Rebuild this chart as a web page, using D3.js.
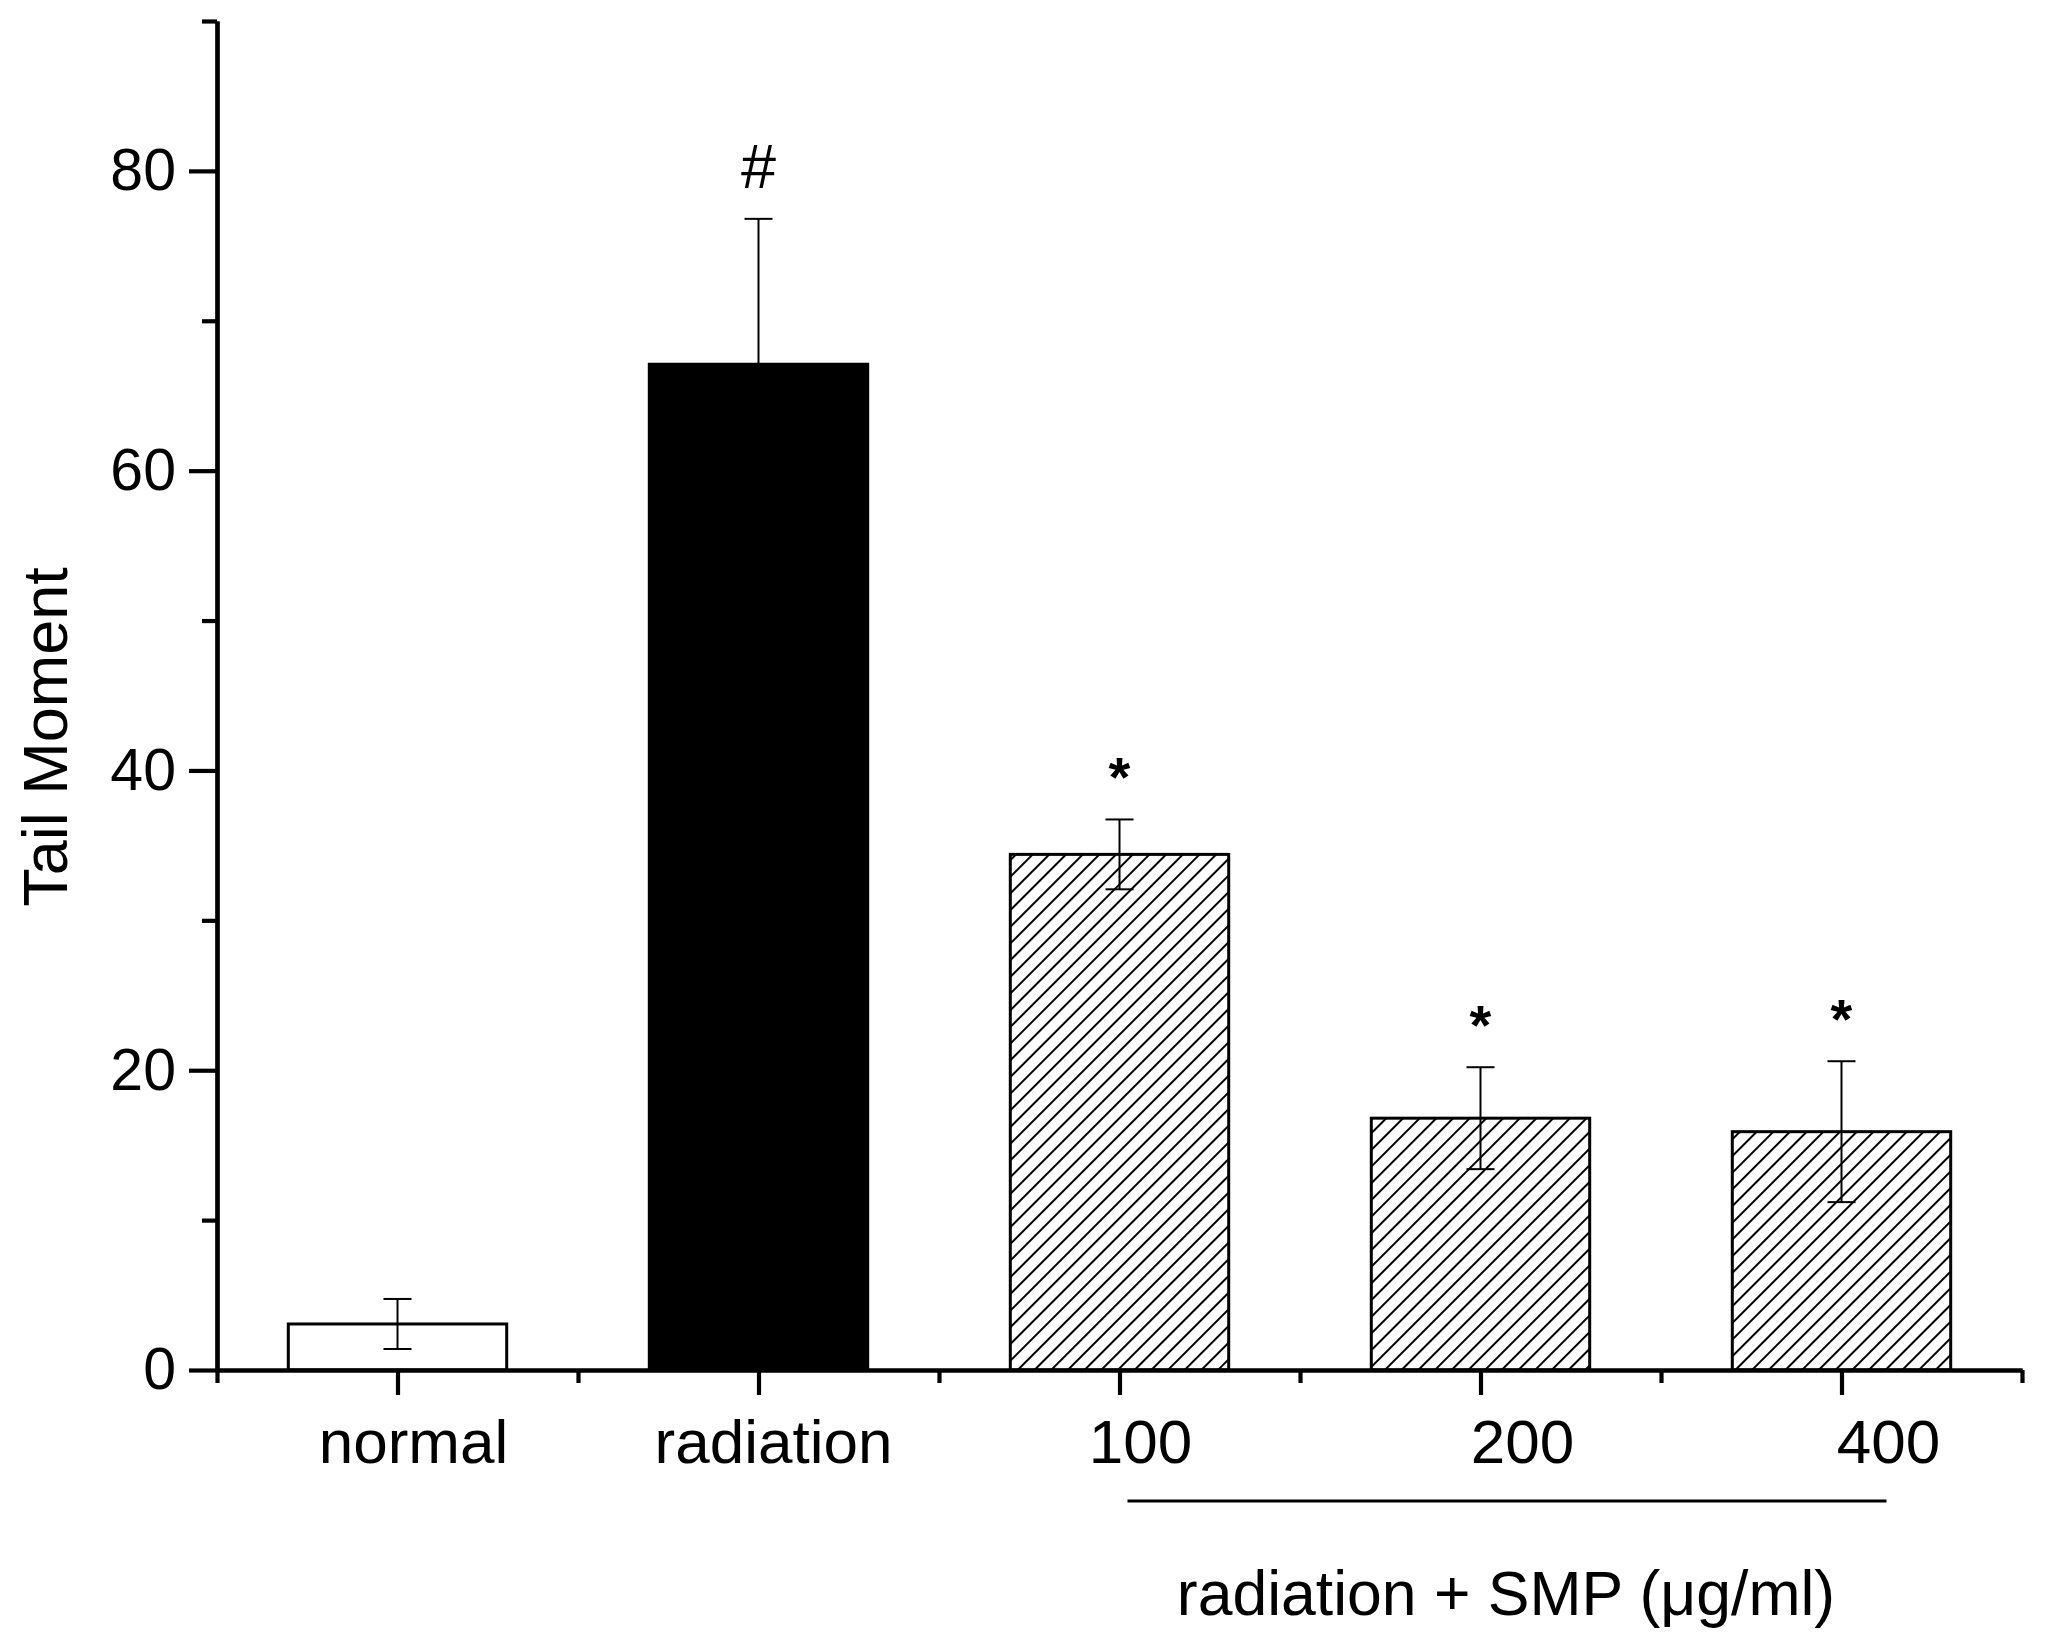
<!DOCTYPE html>
<html>
<head>
<meta charset="utf-8">
<script src="https://cdn.jsdelivr.net/npm/d3@7/dist/d3.min.js"></script>
<style>
  html, body { margin: 0; padding: 0; background: #fff; }
  svg { display: block; font-family: "Liberation Sans", Arial, Helvetica, sans-serif; }
</style>
</head>
<body>
<svg id="chart" width="2046" height="1650"></svg>
<script>
// ---- data ----
const categories = ["normal", "radiation", "100", "200", "400"];
const means      = [3.07, 67.1, 34.4, 16.8, 15.9];
const errors     = [1.67, 9.7, 2.33, 3.4, 4.7];
const marks      = ["", "#", "*", "*", "*"];
const fills      = ["white", "black", "hatch", "hatch", "hatch"];
const yMajorTicks = [0, 20, 40, 60, 80];
const yMinorTicks = [10, 30, 50, 70, 90];
const groupLabel = "radiation + SMP (μg/ml)";
const yLabel = "Tail Moment";

// ---- layout ----
const labelDx = [16, 15, 21, 42, 47];
const svg = d3.select("#chart");

const x = d3.scaleLinear().domain([0.5, categories.length + 0.5]).range([217, 2022]);
const y = d3.scaleLinear().domain([0, 90]).range([1370, 21]);
const barW = (x(2) - x(1)) * 0.605;

// hatch pattern
const defs = svg.append("defs");
const pat = defs.append("pattern")
  .attr("id", "hatch")
  .attr("patternUnits", "userSpaceOnUse")
  .attr("width", 11.8).attr("height", 11.8)
  .attr("patternTransform", "rotate(45)");
pat.append("rect").attr("width", 11.8).attr("height", 11.8).attr("fill", "white");
pat.append("line").attr("x1", 0).attr("y1", 0).attr("x2", 0).attr("y2", 11.8)
  .attr("stroke", "black").attr("stroke-width", 4);

const data = categories.map((c, i) => ({ c, i: i + 1, m: means[i], e: errors[i], mark: marks[i], fill: fills[i] }));

// bars
svg.append("g").selectAll("rect").data(data).join("rect")
  .attr("x", d => x(d.i) - barW / 2)
  .attr("width", barW)
  .attr("y", d => y(d.m))
  .attr("height", d => y(0) - y(d.m))
  .attr("fill", d => d.fill === "hatch" ? "url(#hatch)" : d.fill)
  .attr("stroke", "black")
  .attr("stroke-width", 3);

// error bars
const eb = svg.append("g").attr("stroke", "black").attr("stroke-width", 2).attr("fill", "none");
data.forEach(d => {
  const cx = x(d.i);
  eb.append("line").attr("x1", cx).attr("x2", cx).attr("y1", y(d.m + d.e)).attr("y2", y(d.m - d.e));
  eb.append("line").attr("x1", cx - 14).attr("x2", cx + 14).attr("y1", y(d.m + d.e)).attr("y2", y(d.m + d.e));
  eb.append("line").attr("x1", cx - 14).attr("x2", cx + 14).attr("y1", y(d.m - d.e)).attr("y2", y(d.m - d.e));
});

// significance marks
svg.append("g").selectAll("text").data(data.filter(d => d.mark)).join("text")
  .attr("x", d => x(d.i))
  .attr("y", d => y(d.m + d.e) - (d.mark === "#" ? 31 : 23))
  .attr("text-anchor", "middle")
  .attr("font-size", d => d.mark === "#" ? 63 : 56)
  .attr("font-weight", d => d.mark === "#" ? "normal" : "bold")
  .text(d => d.mark);

// axes
function styleAxis(g) {
  g.selectAll("path.domain").attr("stroke", "black").attr("stroke-width", 4.2);
  g.selectAll(".tick line").attr("stroke", "black").attr("stroke-width", 4.2);
}

const yAxis = svg.append("g").attr("transform", `translate(${x(0.5)},0)`)
  .call(d3.axisLeft(y).tickValues(yMajorTicks).tickSize(28).tickSizeOuter(0).tickPadding(13))
  .call(styleAxis);
yAxis.selectAll(".tick text").attr("font-size", 59).attr("fill", "black")
  .attr("font-family", "Liberation Sans, Arial, sans-serif");

svg.append("g").attr("transform", `translate(${x(0.5)},0)`)
  .call(d3.axisLeft(y).tickValues(yMinorTicks).tickSize(15).tickSizeOuter(0).tickFormat(""))
  .call(styleAxis);

const minorX = d3.range(0, categories.length + 1).map(k => k + 0.5);
svg.append("g").attr("transform", `translate(0,${y(0)})`)
  .call(d3.axisBottom(x).tickValues(data.map(d => d.i)).tickSize(25).tickSizeOuter(0).tickFormat(""))
  .call(styleAxis);
svg.append("g").attr("transform", `translate(0,${y(0)})`)
  .call(d3.axisBottom(x).tickValues(minorX).tickSize(13).tickSizeOuter(0).tickFormat(""))
  .call(styleAxis);

// category labels
svg.append("g").selectAll("text").data(data).join("text")
  .attr("x", (d, i) => x(d.i) + labelDx[i])
  .attr("y", 1463)
  .attr("text-anchor", "middle")
  .attr("font-size", 62)
  .text(d => d.c);

// group bracket line and label
svg.append("line")
  .attr("x1", x(3) + 8).attr("x2", x(5) + 45)
  .attr("y1", 1501).attr("y2", 1501)
  .attr("stroke", "black").attr("stroke-width", 3);
svg.append("text")
  .attr("x", 1506).attr("y", 1615)
  .attr("text-anchor", "middle")
  .attr("font-size", 62.5)
  .text(groupLabel);

// y label
svg.append("text")
  .attr("transform", `translate(67,737) rotate(-90)`)
  .attr("text-anchor", "middle")
  .attr("font-size", 63)
  .text(yLabel);
</script>
</body>
</html>
